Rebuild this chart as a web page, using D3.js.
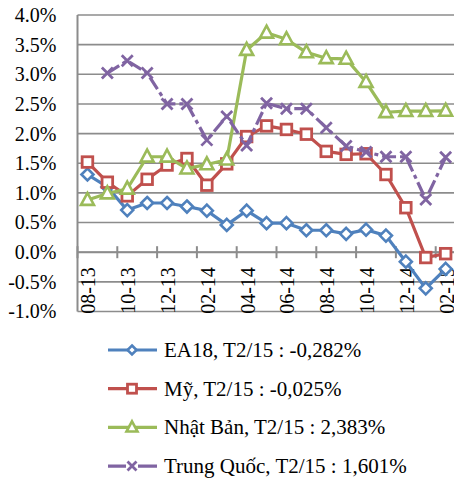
<!DOCTYPE html>
<html>
<head>
<meta charset="utf-8">
<script src="https://cdn.jsdelivr.net/npm/d3@7"></script>
<style>
  body { margin: 0; background: #fff; }
  svg { display: block; font-family: "Liberation Serif", "Times New Roman", serif; }
</style>
</head>
<body>
<div id="chart"></div>
<script>
// months 08-13 .. 02-15
var months = ["08-13","09-13","10-13","11-13","12-13","01-14","02-14","03-14","04-14","05-14",
              "06-14","07-14","08-14","09-14","10-14","11-14","12-14","01-15","02-15"];
var yTicks = [-1, -0.5, 0, 0.5, 1, 1.5, 2, 2.5, 3, 3.5, 4];

var ea18   = [1.31, 1.10, 0.71, 0.83, 0.83, 0.77, 0.70, 0.46, 0.70, 0.49, 0.49, 0.37, 0.37, 0.31, 0.38, 0.28, -0.16, -0.61, -0.282];
var my     = [1.52, 1.18, 0.95, 1.23, 1.47, 1.58, 1.13, 1.49, 1.95, 2.13, 2.07, 1.99, 1.70, 1.65, 1.66, 1.31, 0.75, -0.09, -0.025];
var japan  = [0.88, 0.99, 1.07, 1.61, 1.61, 1.41, 1.48, 1.56, 3.41, 3.70, 3.59, 3.37, 3.27, 3.26, 2.87, 2.36, 2.38, 2.38, 2.383];
var china  = [null, 3.02, 3.23, 3.02, 2.50, 2.50, 1.89, 2.29, 1.80, 2.51, 2.42, 2.42, 2.10, 1.79, 1.69, 1.61, 1.61, 0.89, 1.601];

var seriesNames = ["EA18, T2/15 : -0,282%", "Mỹ, T2/15 : -0,025%", "Nhật Bản, T2/15 : 2,383%", "Trung Quốc, T2/15 : 1,601%"];

var W = 454, H = 479;
var plotLeft = 77.5, plotTop = 15, plotBottom = 311.5;
var bandW = 19.9;

var svg = d3.select("#chart").append("svg").attr("width", W).attr("height", H);

var x = d3.scaleBand().domain(months).range([plotLeft, plotLeft + months.length * bandW]).padding(0);
var y = d3.scaleLinear().domain([-1, 4]).range([plotBottom, plotTop]);
var xc = function(m){ return x(m) + x.bandwidth() / 2; };

var gridColor = "#8c8c8c";

// gridlines
svg.append("g").selectAll("line").data(yTicks).enter().append("line")
  .attr("x1", plotLeft).attr("x2", W)
  .attr("y1", function(d){ return y(d); }).attr("y2", function(d){ return y(d); })
  .attr("stroke", gridColor).attr("stroke-width", 1.6);

// y axis labels
var yAxis = d3.axisLeft(y).tickValues(yTicks).tickSize(0).tickPadding(21)
  .tickFormat(function(d){ return d.toFixed(1) + "%"; });
var gy = svg.append("g").attr("transform", "translate(" + plotLeft + ",0)").call(yAxis);
gy.select(".domain").remove();
gy.selectAll("text").attr("font-size", 20).attr("fill", "#000")
  .attr("font-family", "Liberation Serif, Times New Roman, serif");

// left axis line
svg.append("line").attr("x1", plotLeft).attr("x2", plotLeft).attr("y1", plotTop).attr("y2", plotBottom)
  .attr("stroke", gridColor).attr("stroke-width", 2);

// x axis at zero
var y0 = y(0);
svg.append("line").attr("x1", plotLeft).attr("x2", W).attr("y1", y0).attr("y2", y0)
  .attr("stroke", gridColor).attr("stroke-width", 2);
var tickIdx = d3.range(0, months.length + 1, 2);
svg.append("g").selectAll("line").data(tickIdx).enter().append("line")
  .attr("x1", function(i){ return plotLeft + i * bandW; })
  .attr("x2", function(i){ return plotLeft + i * bandW; })
  .attr("y1", y0 - 6).attr("y2", y0 + 6)
  .attr("stroke", gridColor).attr("stroke-width", 2);

// x labels (every second month), rotated
svg.append("g").selectAll("text").data(months.filter(function(d, i){ return i % 2 === 0; }))
  .enter().append("text")
  .attr("transform", function(d){ return "translate(" + (xc(d) + 1) + "," + (y0 + 15) + ") rotate(-90)"; })
  .attr("dy", "0.35em")
  .attr("text-anchor", "end")
  .attr("font-size", 20)
  .text(function(d){ return d; });

var colors = ["#4F81BD", "#C0504D", "#9BBB59", "#8064A2"];
var shapes = ["diamond", "square", "triangle", "cross"];
var allData = [ea18, my, japan, china];

function drawMarker(g, shape, cx, cy, s, color){
  if (shape === "diamond"){
    g.append("path").attr("d", "M" + cx + "," + (cy - s) + "L" + (cx + s) + "," + cy + "L" + cx + "," + (cy + s) + "L" + (cx - s) + "," + cy + "Z")
      .attr("fill", "#fff").attr("stroke", color).attr("stroke-width", 2.6);
  } else if (shape === "square"){
    g.append("rect").attr("x", cx - s).attr("y", cy - s).attr("width", 2 * s).attr("height", 2 * s)
      .attr("fill", "#fff").attr("stroke", color).attr("stroke-width", 2.8);
  } else if (shape === "triangle"){
    g.append("path").attr("d", "M" + cx + "," + (cy - s * 1.1) + "L" + (cx + s) + "," + (cy + s * 0.75) + "L" + (cx - s) + "," + (cy + s * 0.75) + "Z")
      .attr("fill", "#fff").attr("stroke", color).attr("stroke-width", 2.6);
  } else {
    g.append("path").attr("d", "M" + (cx - s) + "," + (cy - s) + "L" + (cx + s) + "," + (cy + s) + "M" + (cx + s) + "," + (cy - s) + "L" + (cx - s) + "," + (cy + s))
      .attr("fill", "none").attr("stroke", color).attr("stroke-width", 2.8);
  }
}

var markerSize = [6, 5.3, 6.5, 5.5];

allData.forEach(function(vals, k){
  var g = svg.append("g");
  var pts = vals.map(function(v, i){ return { m: months[i], v: v }; });
  var line = d3.line()
    .defined(function(d){ return d.v !== null; })
    .x(function(d){ return xc(d.m); })
    .y(function(d){ return y(d.v); });
  var path = g.append("path").datum(pts).attr("d", line)
    .attr("fill", "none").attr("stroke", colors[k]).attr("stroke-width", 3.2)
    .attr("stroke-linejoin", "round");
  if (k === 3) path.attr("stroke-dasharray", "14,4,4,4");
  pts.forEach(function(d){
    if (d.v === null) return;
    drawMarker(g, shapes[k], xc(d.m), y(d.v), markerSize[k], colors[k]);
  });
});

// legend
var lg = svg.append("g");
seriesNames.forEach(function(name, k){
  var ly = 350 + k * 38.7;
  var ll = lg.append("line").attr("x1", 108).attr("x2", 157).attr("y1", ly).attr("y2", ly)
    .attr("stroke", colors[k]).attr("stroke-width", 3.2);
  if (k === 3) ll.attr("stroke-dasharray", "18,12,20");
  drawMarker(lg, shapes[k], 132, ly, [4.5, 4.5, 5.5, 4.5][k], colors[k]);
  lg.append("text").attr("x", 164).attr("y", ly + 7)
    .attr("font-size", 21).attr("fill", "#000")
    .text(name);
});
</script>
</body>
</html>
